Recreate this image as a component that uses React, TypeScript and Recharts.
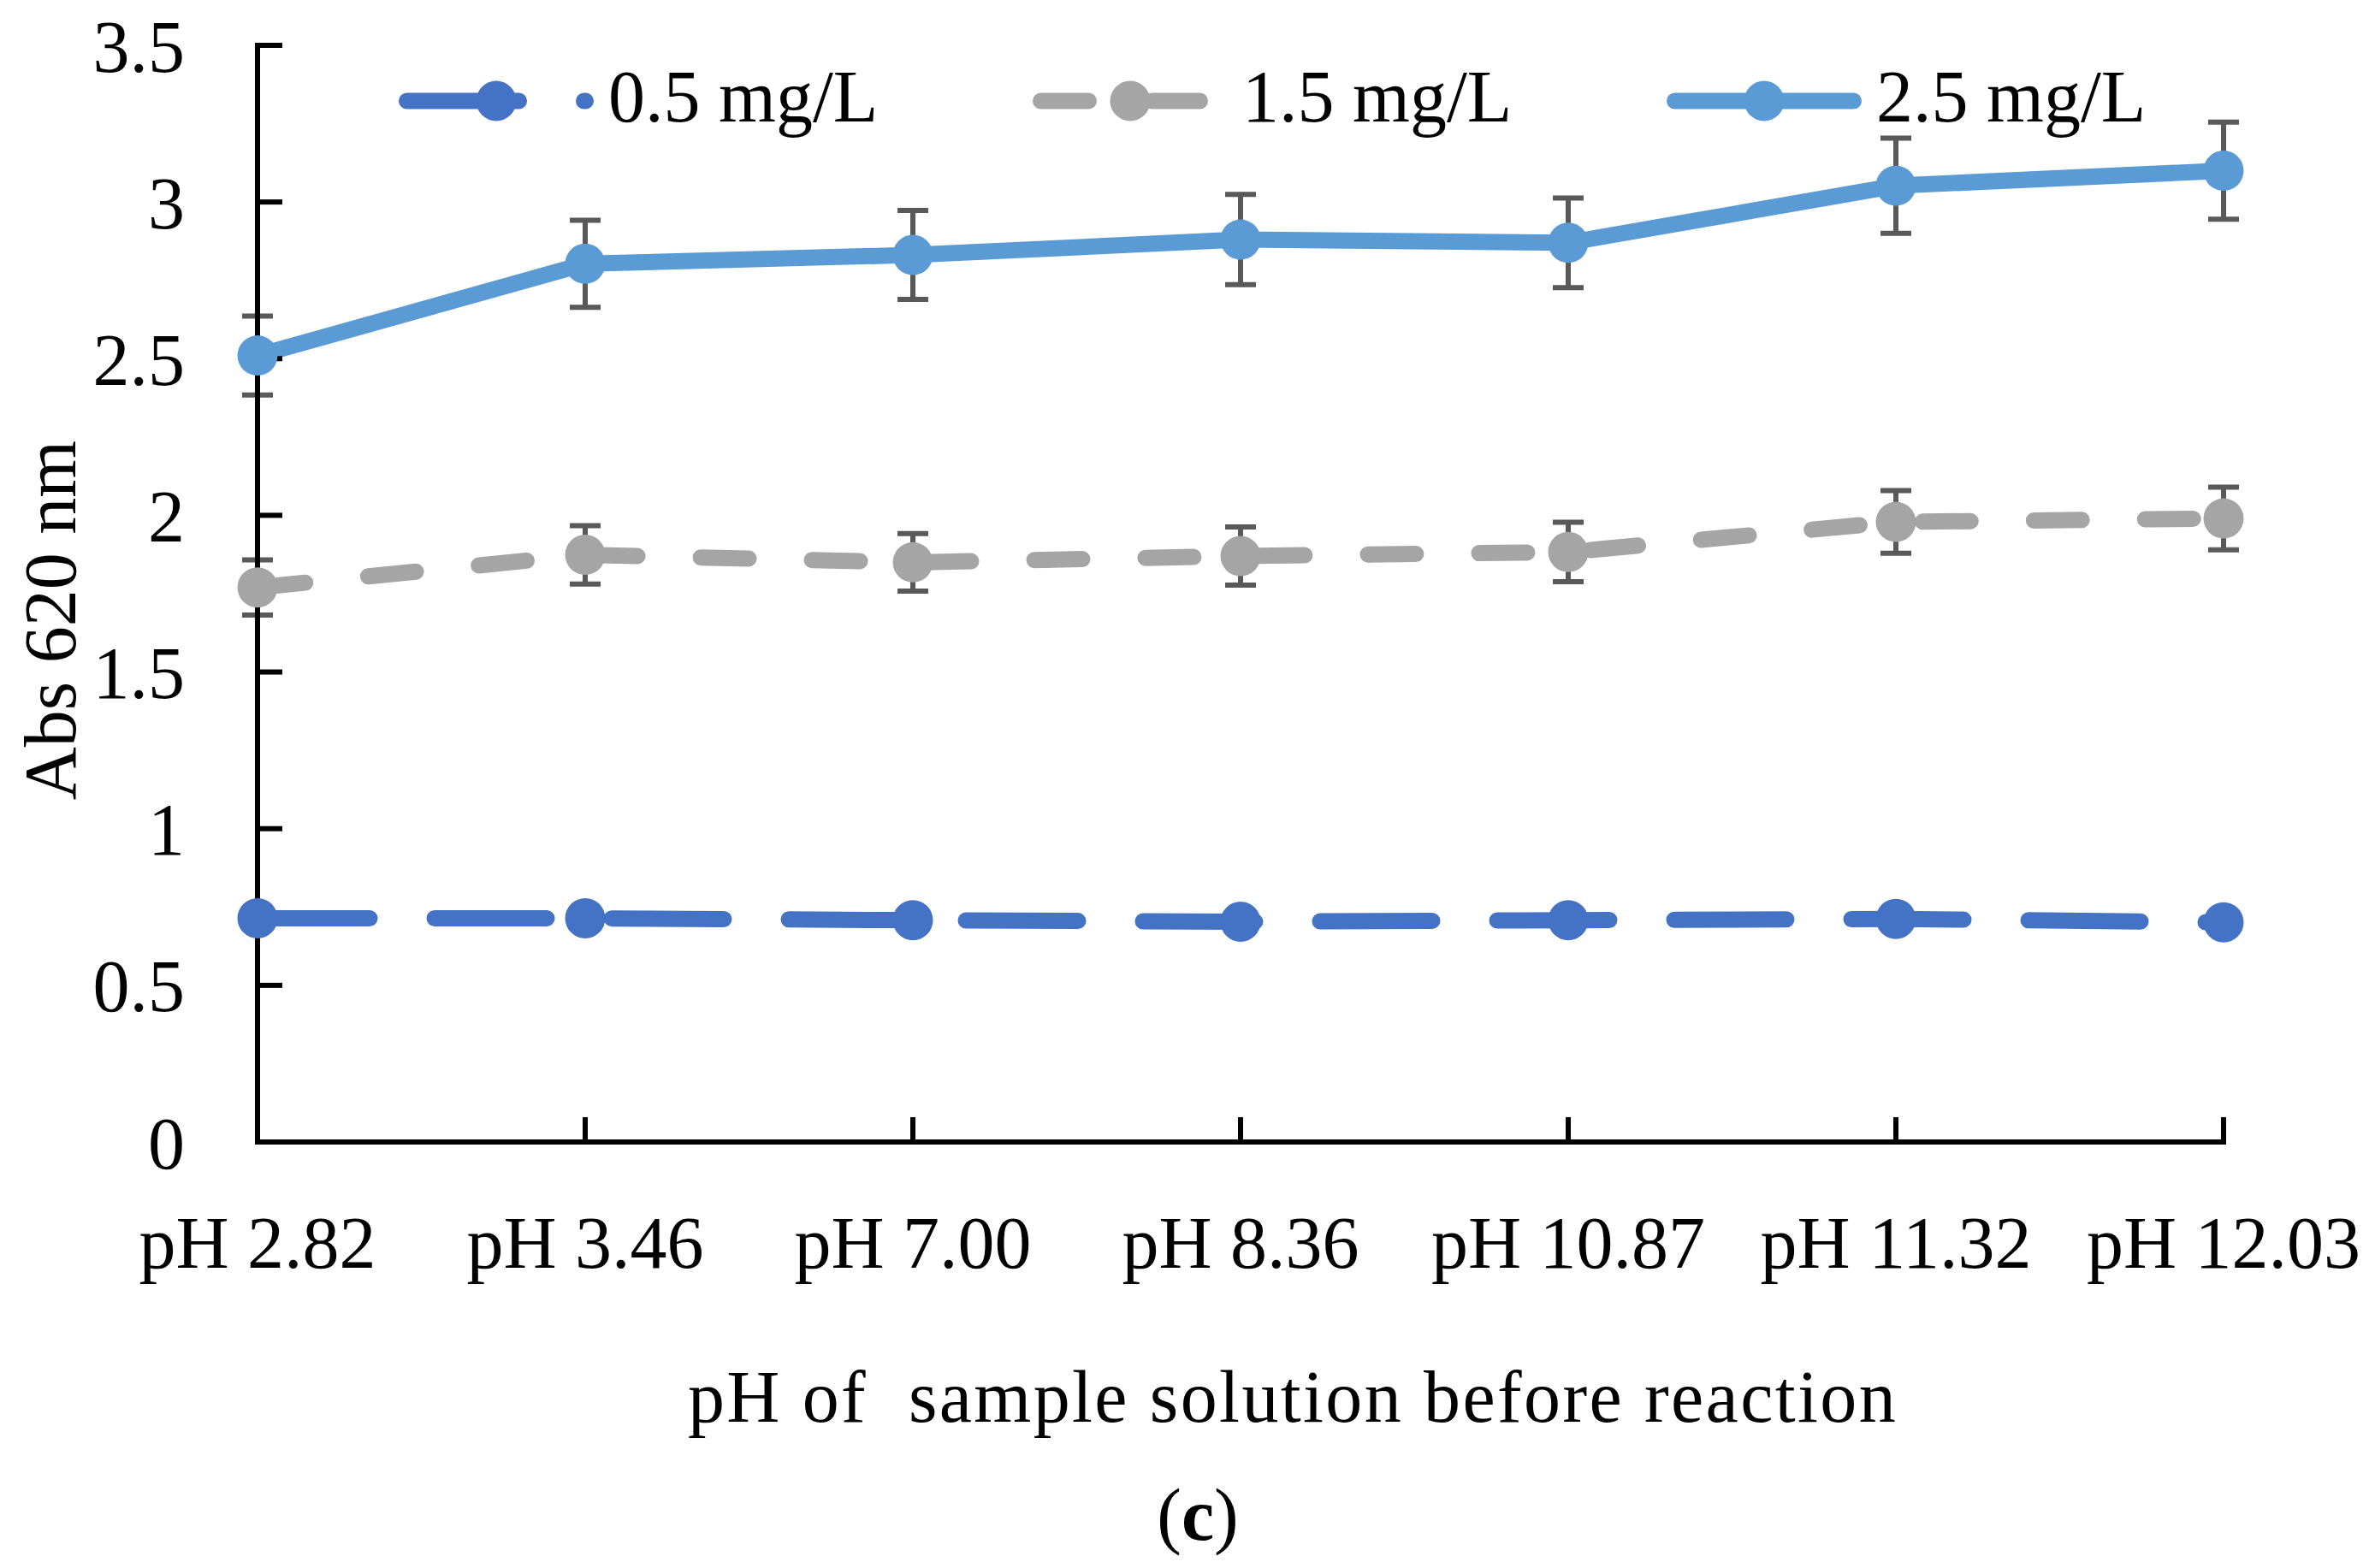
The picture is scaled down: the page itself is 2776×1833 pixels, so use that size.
import React from "react";
import {
  LineChart,
  Line,
  XAxis,
  YAxis,
  ErrorBar,
  Legend,
  Label,
} from "recharts";

// values (Abs at 620 nm)
const phLabels = ["pH 2.82", "pH 3.46", "pH 7.00", "pH 8.36", "pH 10.87", "pH 11.32", "pH 12.03"];
const abs05 = [0.714, 0.714, 0.708, 0.703, 0.708, 0.712, 0.701];
const abs15 = [1.77, 1.874, 1.85, 1.87, 1.883, 1.979, 1.99];
const err15 = [0.088, 0.093, 0.092, 0.093, 0.095, 0.1, 0.1];
const abs25 = [2.51, 2.803, 2.831, 2.88, 2.87, 3.052, 3.1];
const err25 = [0.126, 0.139, 0.142, 0.144, 0.143, 0.152, 0.155];
const yTicks = [0, 0.5, 1, 1.5, 2, 2.5, 3, 3.5];

const seriesNames = ["0.5 mg/L", "1.5 mg/L", "2.5 mg/L"];
const seriesColors = ["#4472C4", "#A5A5A5", "#5B9BD5"];
const seriesDash = ["131 76", "56 74", undefined];

const FONT = "'Liberation Serif', 'Times New Roman', serif";
const FS = 86;
const LINE_W = 19;
const DOT_R = 23.5;

const data = phLabels.map((ph, i) => ({
  ph,
  c05: abs05[i],
  c15: abs15[i],
  e15: err15[i],
  c25: abs25[i],
  e25: err25[i],
}));

function LegendBox() {
  const startX = 466;
  const step = 741;
  const sampleLen = 228;
  const lineY = 118;
  return (
    <svg width={2776} height={200} style={{ display: "block" }}>
      {seriesNames.map((name, i) => {
        const x0 = startX + i * step;
        const color = seriesColors[i];
        return (
          <g key={name}>
            <line
              x1={x0 + LINE_W / 2}
              x2={x0 + sampleLen - LINE_W / 2}
              y1={lineY}
              y2={lineY}
              stroke={color}
              strokeWidth={LINE_W}
              strokeLinecap="round"
              strokeDasharray={seriesDash[i]}
            />
            <circle cx={x0 + sampleLen / 2} cy={lineY} r={DOT_R} fill={color} />
            <text
              x={x0 + 245}
              y={142}
              fontFamily={FONT}
              fontSize={FS}
              fill="#000"
            >
              {name}
            </text>
          </g>
        );
      })}
    </svg>
  );
}

function XTitle(props: any) {
  const vb = props.viewBox;
  return (
    <text
      x={vb.x + vb.width / 2 + 61}
      y={vb.y + 327}
      textAnchor="middle"
      fontFamily={FONT}
      fontSize={FS}
      fill="#000"
      style={{ whiteSpace: "pre", letterSpacing: 2.4 }}
    >
      pH of  sample solution before reaction
    </text>
  );
}

function PanelTag(props: any) {
  const vb = props.viewBox;
  return (
    <text
      x={vb.x + vb.width / 2 - 50}
      y={vb.y + 465}
      textAnchor="middle"
      fontFamily={FONT}
      fontSize={FS}
      fontWeight="normal"
      fill="#000"
    >
      (<tspan fontWeight="bold">c</tspan>)
    </text>
  );
}

function YTitle(props: any) {
  const vb = props.viewBox;
  const cy = vb.y + vb.height / 2 + 31;
  return (
    <text
      transform={`translate(88, ${cy}) rotate(-90)`}
      textAnchor="middle"
      fontFamily={FONT}
      fontSize={FS}
      fill="#000"
    >
      Abs 620 nm
    </text>
  );
}

export default function App() {
  const axisStyle = { stroke: "#000", strokeWidth: 6, strokeLinecap: "square" as const };
  const tickStyle = { fill: "#000", fontSize: FS, fontFamily: FONT };

  return (
    <div
      style={{
        position: "absolute",
        left: 0,
        top: 0,
        width: 2776,
        height: 1833,
        background: "#fff",
      }}
    >
      <LineChart
        width={2776}
        height={1833}
        data={data}
        margin={{ top: 53, right: 177, left: 0, bottom: 0 }}
        style={{ fontFamily: FONT }}
      >
        <XAxis
          dataKey="ph"
          type="category"
          height={498}
          interval={0}
          axisLine={axisStyle}
          tickLine={{ stroke: "#000", strokeWidth: 6 }}
          tickSize={-29}
          tickMargin={115}
          tick={tickStyle}
        >
          <Label content={XTitle} />
          <Label content={PanelTag} />
        </XAxis>
        <YAxis
          type="number"
          domain={[0, 3.5]}
          ticks={yTicks}
          interval={0}
          width={301}
          axisLine={axisStyle}
          tickLine={{ stroke: "#000", strokeWidth: 6 }}
          tickSize={-29}
          tickMargin={114}
          tick={tickStyle}
        >
          <Label content={YTitle} />
        </YAxis>
        <Legend
          layout="horizontal"
          verticalAlign="middle"
          align="center"
          wrapperStyle={{ top: 0, left: 0, width: 2776, height: 200 }}
          content={() => <LegendBox />}
        />
        <Line
          dataKey="c05"
          name={seriesNames[0]}
          stroke={seriesColors[0]}
          strokeWidth={LINE_W}
          strokeDasharray={seriesDash[0]}
          strokeLinecap="round"
          dot={{ r: DOT_R, fill: seriesColors[0], stroke: "none" }}
          activeDot={false}
          isAnimationActive={false}
        />
        <Line
          dataKey="c15"
          name={seriesNames[1]}
          stroke={seriesColors[1]}
          strokeWidth={LINE_W}
          strokeDasharray={seriesDash[1]}
          strokeLinecap="round"
          dot={{ r: DOT_R, fill: seriesColors[1], stroke: "none" }}
          activeDot={false}
          isAnimationActive={false}
        >
          <ErrorBar
            dataKey="e15"
            direction="y"
            width={18}
            stroke="#595959"
            strokeWidth={6}
            isAnimationActive={false}
          />
        </Line>
        <Line
          dataKey="c25"
          name={seriesNames[2]}
          stroke={seriesColors[2]}
          strokeWidth={LINE_W}
          strokeLinejoin="round"
          dot={{ r: DOT_R, fill: seriesColors[2], stroke: "none" }}
          activeDot={false}
          isAnimationActive={false}
        >
          <ErrorBar
            dataKey="e25"
            direction="y"
            width={18}
            stroke="#595959"
            strokeWidth={6}
            isAnimationActive={false}
          />
        </Line>
      </LineChart>
    </div>
  );
}
